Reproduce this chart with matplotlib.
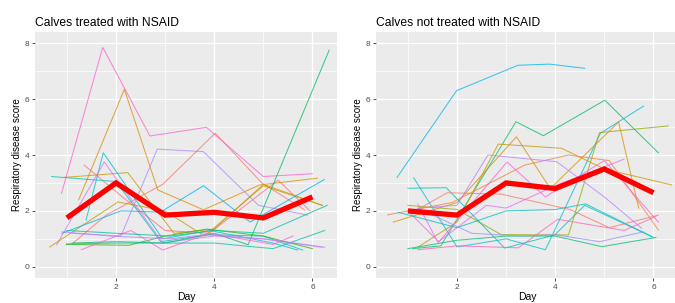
# Spaghetti plot of respiratory disease score per calf, by NSAID treatment group.

import matplotlib
matplotlib.use("Agg")
import matplotlib.pyplot as plt
import numpy as np


plt.rcParams.update({
    "font.family": ["Liberation Sans", "DejaVu Sans"],
    "font.size": 7,
})

treated_days = [
    [0.89, 1.73, 2.69, 3.84, 5.00, 6.00],
    [1.24, 2.17, 2.85, 3.78, 4.93, 6.10],
    [1.13, 1.80, 2.95, 4.02, 4.97, 5.84],
    [1.35, 2.20, 3.00, 3.90, 5.30, 5.95],
    [0.69, 2.00, 2.91, 3.90, 5.00, 5.80],
    [1.39, 1.74, 2.95, 3.90, 5.20, 5.70],
    [0.79, 1.76, 2.95, 4.00, 5.00, 6.20],
    [1.10, 2.10, 2.84, 3.78, 4.90, 5.90],
    [0.95, 2.24, 3.18, 4.00, 5.00, 6.20],
    [0.65, 2.04, 3.00, 3.80, 5.00, 6.20],
    [0.99, 2.26, 3.00, 3.85, 5.00, 6.00],
    [1.10, 2.00, 3.00, 4.00, 4.69, 6.34],
    [1.29, 2.30, 2.95, 3.90, 5.20, 5.60],
    [0.99, 2.00, 3.00, 4.00, 5.20, 6.25],
    [0.90, 1.90, 3.10, 3.80, 5.00, 6.25],
    [0.90, 2.10, 2.91, 3.78, 4.73, 6.24],
    [1.00, 2.00, 3.10, 4.00, 5.00, 6.30],
]
treated_scores = [
    [2.63, 7.85, 4.68, 4.99, 3.23, 3.33],
    [2.40, 6.35, 2.75, 2.04, 2.93, 3.17],
    [0.86, 1.85, 2.95, 4.78, 3.00, 2.04],
    [3.64, 2.40, 1.30, 1.20, 3.10, 2.00],
    [3.23, 3.05, 0.90, 1.15, 1.10, 0.60],
    [1.68, 4.08, 1.00, 1.30, 0.85, 0.60],
    [0.79, 3.75, 0.86, 1.10, 1.00, 0.70],
    [1.20, 1.10, 4.21, 4.12, 2.20, 1.85],
    [3.20, 3.37, 1.20, 1.35, 2.95, 2.20],
    [0.71, 2.32, 2.00, 1.10, 2.90, 2.20],
    [0.80, 0.77, 1.10, 1.35, 1.10, 0.65],
    [0.85, 0.90, 0.85, 1.20, 0.79, 7.75],
    [0.61, 1.30, 0.60, 1.20, 0.80, 1.10],
    [0.82, 0.85, 0.85, 0.85, 0.65, 1.30],
    [1.25, 1.10, 1.00, 1.15, 1.00, 0.70],
    [1.20, 2.00, 1.96, 2.90, 1.60, 3.12],
    [1.30, 1.20, 1.10, 1.30, 1.20, 2.20],
]
treated_mean_days = [1, 2, 3, 4, 5, 6]
treated_mean = [1.75, 3.00, 1.85, 1.95, 1.75, 2.50]

control_days = [
    [0.78, 1.99, 3.24, 3.89, 4.60],
    [1.10, 1.67, 3.20, 3.76, 5.01, 6.10],
    [1.12, 2.00, 3.00, 3.80, 4.92, 5.80],
    [1.00, 2.00, 2.90, 4.27, 4.90, 6.30],
    [1.20, 2.00, 2.84, 4.13, 5.00, 6.37],
    [0.70, 2.00, 3.21, 3.90, 5.29, 5.70],
    [0.59, 1.90, 3.38, 4.27, 5.10, 6.10],
    [1.20, 2.00, 2.63, 4.03, 5.00, 5.76],
    [1.20, 1.61, 2.60, 3.00, 4.00, 5.40],
    [1.00, 1.63, 3.02, 3.80, 5.00, 6.10],
    [1.00, 1.78, 2.97, 3.99, 4.60, 5.97],
    [0.80, 2.00, 3.00, 4.00, 4.62, 6.00],
    [1.00, 2.00, 3.00, 4.00, 4.95, 6.05],
    [1.20, 2.00, 3.25, 4.05, 5.40, 6.05],
    [1.10, 1.80, 2.90, 4.30, 5.10, 6.10],
    [1.20, 2.30, 3.30, 4.00, 4.90, 5.80],
]
control_scores = [
    [3.20, 6.30, 7.21, 7.25, 7.10],
    [0.65, 0.75, 5.19, 4.69, 5.96, 4.08],
    [3.18, 0.71, 1.00, 0.61, 4.78, 5.75],
    [2.20, 2.05, 1.15, 1.14, 4.80, 5.04],
    [0.70, 1.60, 4.39, 4.24, 3.50, 2.93],
    [1.60, 2.30, 4.65, 2.80, 5.18, 2.10],
    [1.86, 2.30, 3.64, 4.00, 3.80, 1.32],
    [2.10, 2.20, 4.00, 3.76, 2.50, 1.38],
    [2.25, 0.88, 2.20, 2.10, 2.90, 3.85],
    [2.00, 0.89, 3.75, 2.50, 3.80, 1.60],
    [2.81, 2.83, 0.67, 1.14, 2.20, 1.08],
    [1.95, 1.40, 2.00, 2.05, 2.25, 1.05],
    [0.65, 0.95, 1.10, 1.10, 0.72, 1.05],
    [0.61, 0.75, 0.68, 1.70, 1.30, 1.80],
    [1.95, 2.65, 2.60, 2.05, 1.40, 1.85],
    [2.10, 1.20, 1.10, 1.15, 0.90, 1.25],
]
control_mean_days = [1, 2, 3, 4, 5, 6]
control_mean = [2.00, 1.85, 3.00, 2.80, 3.50, 2.65]

# hue (degrees) used for each calf line, ggplot-style palette
treated_hues = [330, 45, 15, 5, 190, 200, 290, 275, 60, 70, 125, 150, 320, 180, 280, 230, 175]
control_hues = [225, 150, 205, 95, 65, 50, 30, 280, 305, 320, 190, 195, 155, 340, 15, 270]


def hcl_hex(h, c=100, l=65):
    """Polar LUV -> sRGB hex, like scales::hue_pal()."""
    xn, yn, zn = 95.047, 100.0, 108.883
    un = 4 * xn / (xn + 15 * yn + 3 * zn)
    vn = 9 * yn / (xn + 15 * yn + 3 * zn)
    u = c * np.cos(np.radians(h))
    v = c * np.sin(np.radians(h))
    y = yn * ((l + 16) / 116) ** 3
    up = u / (13 * l) + un
    vp = v / (13 * l) + vn
    x = 9 * y * up / (4 * vp)
    z = y * (12 - 3 * up - 20 * vp) / (4 * vp)
    xyz = np.array([x, y, z]) / 100
    m = np.array([[3.2406, -1.5372, -0.4986],
                  [-0.9689, 1.8758, 0.0415],
                  [0.0557, -0.2040, 1.0570]])
    rgb = m @ xyz
    rgb = np.where(rgb <= 0.0031308, 12.92 * rgb,
                   1.055 * np.clip(rgb, 0, None) ** (1 / 2.4) - 0.055)
    rgb = np.clip(rgb, 0, 1)
    return "#%02x%02x%02x" % tuple(int(round(v * 255)) for v in rgb)


def draw_panel(ax, days, scores, hues, mean_days, mean_vals, title):
    ax.set_facecolor("#EBEBEB")
    for d, s, h in zip(days, scores, hues):
        ax.plot(d, s, color=hcl_hex(h), lw=0.75, alpha=0.75, zorder=2)
    ax.plot(mean_days, mean_vals, color="#FF0000", lw=3.8, zorder=3,
            solid_capstyle="butt", solid_joinstyle="miter")

    ax.set_xlim(0.35, 6.5)
    ax.set_ylim(-0.4, 8.4)
    ax.set_xticks([2, 4, 6])
    ax.set_yticks([0, 2, 4, 6, 8])
    ax.set_xticks([1, 3, 5], minor=True)
    ax.set_yticks([1, 3, 5, 7], minor=True)
    ax.grid(which="major", color="white", lw=1.0, zorder=0)
    ax.grid(which="minor", color="white", lw=0.5, zorder=0)
    ax.set_axisbelow(True)
    for sp in ax.spines.values():
        sp.set_visible(False)
    ax.tick_params(which="major", length=2.5, width=0.6, color="#333333",
                   labelcolor="#4D4D4D", labelsize=6, pad=1.5)
    ax.tick_params(which="minor", length=0)

    ax.set_xlabel("Day", fontsize=7.5, labelpad=1)
    ax.set_ylabel("Respiratory disease score", fontsize=7, labelpad=2)
    ax.set_title(title, loc="left", fontsize=8.7, pad=4)


fig = plt.figure(figsize=(6.75, 3.03), dpi=100)
ax1 = fig.add_axes([35 / 675, 25 / 303, 302 / 675, 246 / 303])
ax2 = fig.add_axes([376 / 675, 25 / 303, 302 / 675, 246 / 303])

draw_panel(ax1, treated_days, treated_scores, treated_hues,
           treated_mean_days, treated_mean, "Calves treated with NSAID")
draw_panel(ax2, control_days, control_scores, control_hues,
           control_mean_days, control_mean, "Calves not treated with NSAID")

fig.savefig("out.png", dpi=100)
